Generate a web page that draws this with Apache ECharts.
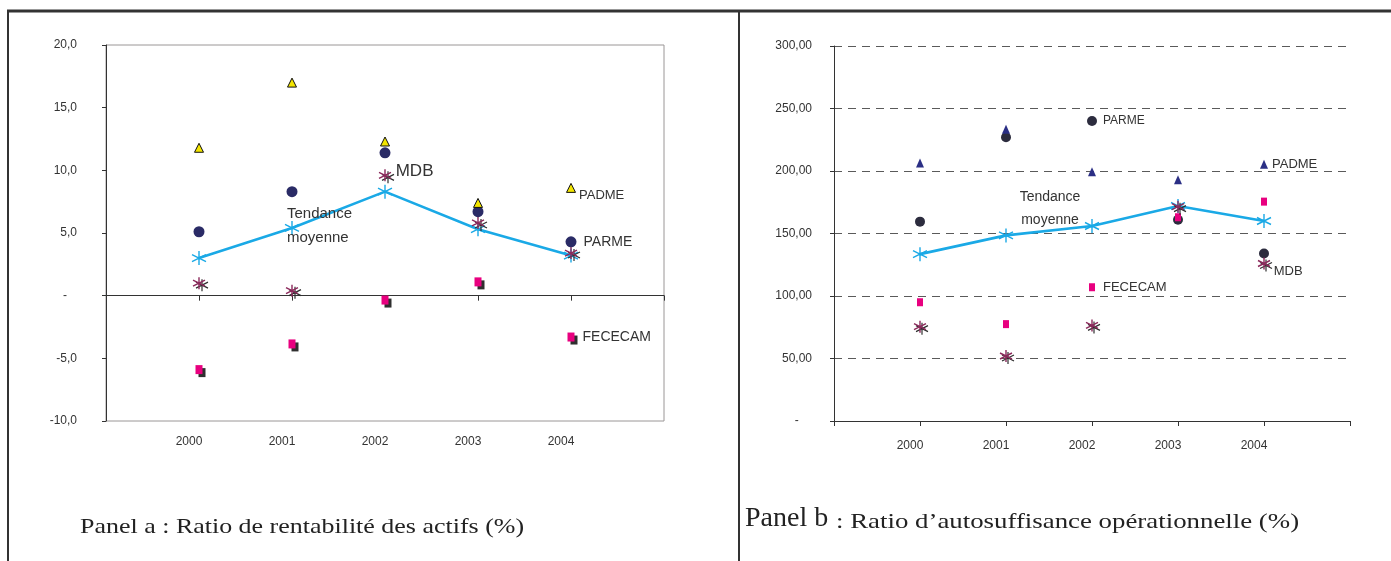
<!DOCTYPE html>
<html>
<head>
<meta charset="utf-8">
<script src="https://cdn.jsdelivr.net/npm/echarts@6/dist/echarts.min.js"></script>
<style>
html,body{margin:0;padding:0;background:#fff;}
#chart{width:1391px;height:561px;}
</style>
</head>
<body>
<div id="chart"></div>
<script>
// ---------- data ----------
const years = [2000, 2001, 2002, 2003, 2004];

// Panel a : Ratio de rentabilité des actifs (%)
const aPADME   = [11.8, 17.0, 12.3, 7.4, 8.6];
const aPARME   = [5.1, 8.3, 11.4, 6.7, 4.3];
const aMDB     = [1.0, 0.4, 9.6, 5.8, 3.4];
const aFECECAM = [-5.9, -3.85, -0.35, 1.1, -3.3];
const aTrend   = [3.0, 5.4, 8.3, 5.3, 3.2];

// Panel b : Ratio d'autosuffisance opérationnelle (%)
const bPADME   = [206.5, 233.5, 199.5, 193, 205.5];
const bPARME   = [159.5, 227, 240, 161, 134];
const bMDB     = [75.5, 52, 76.5, 171.5, 126];
const bFECECAM = [95, 77.5, 107, 163, 175.5];
const bTrend   = [133.5, 148.5, 156, 172, 160];

const captionA = 'Panel a : Ratio de rentabilité des actifs (%)';
const captionB1 = 'Panel b';
const captionB2 = ': Ratio d\u2019autosuffisance opérationnelle (%)';

// ---------- styles ----------
const FONT = 'Liberation Sans, Arial, sans-serif';
const TXT = '#333';
const BLUE = '#1aa9e6';
const PINK = '#e8007f';
const PURPLE = '#8c2a5c';
const DARK = '#2f2f2f';
const NAVY_A = '#2a2b66';
const NAVY_B = '#2b2f85';
const CIRC_B = '#2c2c3e';
const YELLOW = '#f3e500';
const ASTER = 'path://M5,0L5,10M0.67,2.5L9.33,7.5M0.67,7.5L9.33,2.5';

function pts(vals, labelIdx, label) {
  return vals.map((v, i) => {
    const d = { value: [years[i], v] };
    if (i === labelIdx && label) d.label = Object.assign({ show: true, fontFamily: FONT, color: TXT }, label);
    return d;
  });
}
function scatter(grid, vals, symbol, size, itemStyle, z, extra) {
  return Object.assign({
    type: 'scatter', xAxisIndex: grid === 0 ? 0 : 2, yAxisIndex: grid,
    data: vals, symbol: symbol, symbolSize: size,
    itemStyle: Object.assign({ opacity: 1 }, itemStyle), z: z,
    silent: true, animation: false
  }, extra || {});
}
function yearLabel(v) { return years.indexOf(v) >= 0 ? String(v) : ''; }
function fmtA(v) { return v === 0 ? '-   ' : v.toFixed(1).replace('.', ','); }
function fmtB(v) { return v === 0 ? '-    ' : v.toFixed(2).replace('.', ','); }

const series = [
  // ----- panel a -----
  scatter(0, pts(aFECECAM), 'rect', [7, 9], { color: DARK }, 2, { symbolOffset: [3, 3] }),
  scatter(0, pts(aFECECAM, 4, { formatter: 'FECECAM', position: 'right', distance: 8, fontSize: 14 }), 'rect', [7, 9], { color: PINK }, 3),
  {
    type: 'line', xAxisIndex: 0, yAxisIndex: 0, z: 4, silent: true, animation: false,
    data: pts(aTrend, 1, { formatter: 'Tendance\nmoyenne', position: 'inside', align: 'left', verticalAlign: 'middle', offset: [-5, -2], lineHeight: 24, fontSize: 15 }),
    symbol: ASTER, symbolSize: 14, showSymbol: true,
    lineStyle: { color: BLUE, width: 2.6 },
    itemStyle: { color: BLUE, borderColor: BLUE, borderWidth: 1.4 }
  },
  scatter(0, pts(aMDB), ASTER, 12, { color: DARK, borderColor: DARK, borderWidth: 1.2 }, 5, { symbolOffset: [3, 2] }),
  scatter(0, pts(aMDB, 2, { formatter: 'MDB', position: 'right', distance: 4, offset: [0, -4], fontSize: 17 }), ASTER, 12, { color: PURPLE, borderColor: PURPLE, borderWidth: 1.4 }, 6),
  scatter(0, pts(aPARME, 4, { formatter: 'PARME', position: 'right', distance: 7, fontSize: 14 }), 'circle', 11, { color: NAVY_A }, 7),
  scatter(0, pts(aPADME, 4, { formatter: 'PADME', position: 'right', distance: 3, offset: [0, 8], fontSize: 13 }), 'triangle', [9, 9], { color: YELLOW, borderColor: '#111', borderWidth: 1 }, 8),

  // ----- panel b -----
  {
    type: 'line', xAxisIndex: 2, yAxisIndex: 1, z: 4, silent: true, animation: false,
    data: pts(bTrend, 1, { formatter: 'Tendance\nmoyenne', position: 'inside', align: 'center', verticalAlign: 'middle', offset: [44, -27], lineHeight: 23, fontSize: 14 }),
    symbol: ASTER, symbolSize: 14, showSymbol: true,
    lineStyle: { color: BLUE, width: 2.6 },
    itemStyle: { color: BLUE, borderColor: BLUE, borderWidth: 1.4 }
  },
  scatter(1, pts(bPARME, 2, { formatter: 'PARME', position: 'right', distance: 6, fontSize: 12 }), 'circle', 10, { color: CIRC_B }, 5),
  scatter(1, pts(bFECECAM, 2, { formatter: 'FECECAM', position: 'right', distance: 8, fontSize: 13 }), 'rect', [6, 8], { color: PINK }, 6),
  scatter(1, pts(bMDB), ASTER, 12, { color: DARK, borderColor: DARK, borderWidth: 1.2 }, 6, { symbolOffset: [2, 2] }),
  scatter(1, pts(bMDB, 4, { formatter: 'MDB', position: 'right', distance: 3, offset: [0, 8], fontSize: 13 }), ASTER, 12, { color: PURPLE, borderColor: PURPLE, borderWidth: 1.4 }, 7),
  scatter(1, pts(bPADME, 4, { formatter: 'PADME', position: 'right', distance: 4, fontSize: 13 }), 'triangle', [8, 9], { color: NAVY_B }, 8)
];

const chart = echarts.init(document.getElementById('chart'), null, { renderer: 'canvas' });
chart.setOption({
  animation: false,
  backgroundColor: '#fff',
  textStyle: { fontFamily: FONT },
  grid: [
    { left: 106, right: 727, top: 45, bottom: 140, show: true, borderColor: '#9a9696', borderWidth: 1, backgroundColor: 'transparent' },
    { left: 834, right: 41, top: 46, bottom: 140 }
  ],
  xAxis: [
    { gridIndex: 0, type: 'value', min: 1999, max: 2005, interval: 1, position: 'bottom',
      axisLine: { show: false, onZero: false }, axisTick: { show: false }, splitLine: { show: false },
      axisLabel: { formatter: yearLabel, fontSize: 12, color: TXT, margin: 15, padding: [0, 20, 0, 0], fontFamily: FONT } },
    { gridIndex: 0, type: 'value', min: 1999, max: 2005, interval: 1, position: 'top',
      axisLine: { show: true, onZero: true, lineStyle: { color: '#333', width: 1 } },
      axisTick: { show: true, inside: true, length: 5, lineStyle: { color: '#333' } },
      axisLabel: { show: false }, splitLine: { show: false } },
    { gridIndex: 1, type: 'value', min: 1999, max: 2005, interval: 1, position: 'bottom',
      axisLine: { show: true, onZero: false, lineStyle: { color: '#333', width: 1 } },
      axisTick: { show: true, length: 5, lineStyle: { color: '#333' } },
      axisLabel: { formatter: yearLabel, fontSize: 12, color: TXT, margin: 19, padding: [0, 20, 0, 0], fontFamily: FONT },
      splitLine: { show: false } }
  ],
  yAxis: [
    { gridIndex: 0, type: 'value', min: -10, max: 20, interval: 5,
      axisLine: { show: true, lineStyle: { color: '#333', width: 1 } },
      axisTick: { show: true, length: 4, lineStyle: { color: '#333' } },
      axisLabel: { formatter: fmtA, fontSize: 12, color: TXT, margin: 29, fontFamily: FONT },
      splitLine: { show: false } },
    { gridIndex: 1, type: 'value', min: 0, max: 300, interval: 50,
      axisLine: { show: true, lineStyle: { color: '#333', width: 1 } },
      axisTick: { show: true, length: 4, lineStyle: { color: '#333' } },
      axisLabel: { formatter: fmtB, fontSize: 12, color: TXT, margin: 22, fontFamily: FONT },
      splitLine: { show: true, lineStyle: { color: '#5a5a5a', width: 1.2, type: [8, 6] } } }
  ],
  graphic: [
    { type: 'line', shape: { x1: 7, y1: 11, x2: 1391, y2: 11 }, style: { stroke: '#333', lineWidth: 3 }, silent: true },
    { type: 'line', shape: { x1: 8, y1: 10, x2: 8, y2: 561 }, style: { stroke: '#333', lineWidth: 2 }, silent: true },
    { type: 'line', shape: { x1: 739, y1: 10, x2: 739, y2: 561 }, style: { stroke: '#333', lineWidth: 2 }, silent: true },
    { type: 'text', x: 80, y: 516, scaleX: 1.18, silent: true,
      style: { text: captionA, font: '22px "Liberation Serif", "Times New Roman", serif', fill: '#222', textBaseline: 'top' } },
    { type: 'text', x: 745, y: 505, silent: true,
      style: { text: captionB1, font: '28px "Liberation Serif", "Times New Roman", serif', fill: '#222', textBaseline: 'top' } },
    { type: 'text', x: 836, y: 511, scaleX: 1.22, silent: true,
      style: { text: captionB2, font: '22px "Liberation Serif", "Times New Roman", serif', fill: '#222', textBaseline: 'top' } }
  ],
  series: series
});
</script>
</body>
</html>
